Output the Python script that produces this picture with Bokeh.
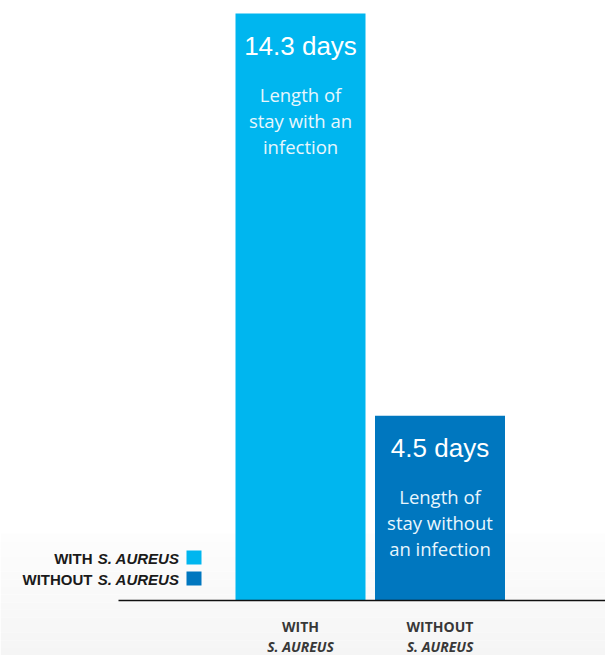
from bokeh.plotting import figure
from bokeh.models import Range1d
from bokeh.core.properties import value
from bokeh.embed import file_html
from bokeh.resources import INLINE

# ---- data ----
categories = ["WITH", "WITHOUT"]
species = "S. AUREUS"
days = [14.3, 4.5]
value_labels = ["14.3 days", "4.5 days"]
descriptions = [
    ["Length of", "stay with an", "infection"],
    ["Length of", "stay without", "an infection"],
]
colors = ["#00b6ef", "#0077bf"]

# ---- layout (pixels) ----
W, H = 605, 655
PX_X = 139.5          # pixels per category step
X0_FIG = 300.0        # pixel x of first bar centre
BASE_FIG = 600.0      # pixel y (from top) of baseline
TOP_FIG = 13.0        # pixel y of the tallest bar top
PX_Y = (BASE_FIG - TOP_FIG) / max(days)

x_start = -X0_FIG / PX_X
x_end = x_start + W / PX_X
y_end = BASE_FIG / PX_Y
y_start = y_end - H / PX_Y


def dx(fx):
    return x_start + fx / PX_X


def dy(fy):
    return y_end - fy / PX_Y


p = figure(width=W, height=H, output_backend="svg", toolbar_location=None,
           x_range=Range1d(x_start, x_end), y_range=Range1d(y_start, y_end),
           x_axis_type=None, y_axis_type=None, min_border=0,
           outline_line_color=None, background_fill_color="white",
           border_fill_color="white")
p.grid.visible = False

# background gradient near the bottom
n_bands = 16
g_top, g_bot = 533.0, 655.0
for k in range(n_bands):
    t0 = g_top + (g_bot - g_top) * k / n_bands
    t1 = g_top + (g_bot - g_top) * (k + 1) / n_bands
    shade = int(round(253 - 8 * (k + 0.5) / n_bands))
    p.quad(left=x_start, right=x_end, top=dy(t0), bottom=dy(t1),
           fill_color=(shade, shade, shade), line_color=None, level="underlay")

idx = list(range(len(categories)))

# bars
p.vbar(x=idx, top=days, bottom=0, width=130 / PX_X, fill_color=colors,
       line_color=None)

# baseline
p.segment(x0=[dx(118)], y0=[0], x1=[x_end], y1=[0], line_color="#111111",
          line_width=1.6)

# value labels inside bars
p.text(x=idx, y=[d - 32 / PX_Y for d in days], text=value_labels,
       text_align="center", text_baseline="middle",
       text_font=value("Liberation Sans"), text_font_size="26px",
       text_color="white")

# descriptions inside bars
for i, lines in enumerate(descriptions):
    ys = [days[i] - (81 + 26 * j) / PX_Y for j in range(len(lines))]
    p.text(x=[i] * len(lines), y=ys, text=lines, text_align="center",
           text_baseline="middle", text_font=value("Open Sans"),
           text_font_size="18.5px", text_color="#e8f6fd")

# category labels below axis
p.text(x=idx, y=[dy(626)] * len(idx), text=categories, text_align="center",
       text_baseline="middle", text_font=value("Open Sans"),
       text_font_size="14px", text_font_style="bold", text_color="#383838")
p.text(x=idx, y=[dy(646)] * len(idx), text=[species] * len(idx),
       text_align="center", text_baseline="middle",
       text_font=value("Open Sans"), text_font_size="14px",
       text_font_style="bold italic", text_color="#383838")

# legend (custom, right-aligned text with swatch on the right)
leg_rows = [557, 578]
p.rect(x=[dx(193.5)] * len(idx), y=[dy(r) for r in leg_rows],
       width=15 / PX_X, height=14 / PX_Y, fill_color=colors, line_color=None)
p.text(x=[dx(179)] * len(idx), y=[dy(r + 0.5) for r in leg_rows],
       text=[species] * len(idx), text_align="right",
       text_baseline="middle", text_font=value("Liberation Sans"),
       text_font_size="15px", text_font_style="bold italic",
       text_color="#1a1a1a")
p.text(x=[dx(92)] * len(idx), y=[dy(r + 0.5) for r in leg_rows],
       text=categories, text_align="right", text_baseline="middle",
       text_font=value("Liberation Sans"), text_font_size="15px",
       text_font_style="bold", text_color="#1a1a1a")

open("out.html", "w").write(file_html(p, INLINE))
